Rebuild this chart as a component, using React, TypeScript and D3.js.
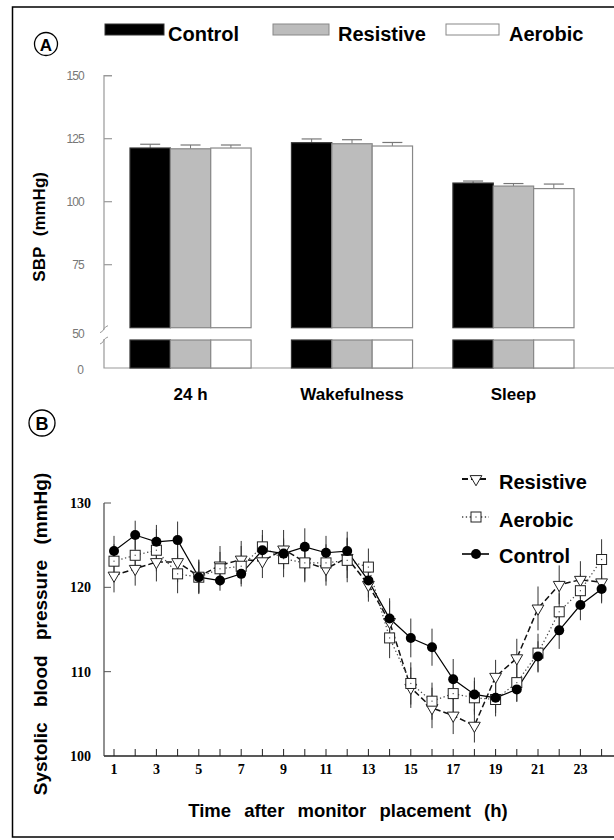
import React from "react";
import * as d3 from "d3";

// Panel A: mean SBP by period
const periods = ["24 h", "Wakefulness", "Sleep"];
const groupNames = ["Control", "Resistive", "Aerobic"];
const controlSBP = [121.3, 123.4, 107.4];
const resistiveSBP = [121.0, 123.0, 106.2];
const aerobicSBP = [121.3, 122.1, 105.2];
const controlSBPErr = [1.5, 1.5, 0.8];
const resistiveSBPErr = [1.5, 1.6, 1.0];
const aerobicSBPErr = [1.2, 1.4, 1.8];
const sbpTicks = [75, 100, 125, 150];

// Panel B: hourly SBP after monitor placement
const hours = d3.range(1, 25);
const hourLabels = [1, 3, 5, 7, 9, 11, 13, 15, 17, 19, 21, 23];
const controlHourly = [124.3, 126.2, 125.4, 125.6, 121.2, 120.8, 121.6, 124.4, 124.0, 124.8, 124.1, 124.3,
  120.8, 116.3, 114.0, 112.9, 109.1, 107.3, 106.9, 107.9, 111.8, 114.9, 117.9, 119.8];
const resistiveHourly = [121.4, 122.2, 123.0, 123.0, 121.3, 122.6, 123.3, 123.1, 124.5, 123.0, 122.2, 123.5,
  120.3, 115.9, 108.1, 105.7, 104.8, 103.6, 109.4, 111.6, 117.5, 120.3, 120.9, 120.6];
const aerobicHourly = [123.1, 123.8, 124.4, 121.6, 121.2, 122.2, 122.5, 124.8, 123.4, 122.9, 122.9, 123.2,
  122.4, 114.0, 108.6, 106.5, 107.4, 106.9, 106.7, 108.7, 112.2, 117.1, 119.6, 123.3];
const controlHourlyErr = [1.8, 1.7, 2.0, 2.2, 1.8, 1.2, 1.2, 1.8, 1.8, 2.2, 2.0, 2.3,
  2.0, 2.4, 2.3, 2.2, 2.4, 2.0, 1.8, 1.5, 1.8, 2.2, 1.8, 1.5];
const resistiveHourlyErr = [2.0, 2.0, 2.3, 2.4, 2.0, 2.3, 2.2, 2.0, 2.3, 2.2, 2.0, 2.4,
  2.0, 2.5, 2.4, 2.4, 2.2, 2.0, 2.0, 2.3, 2.6, 2.3, 2.2, 2.5];
const aerobicHourlyErr = [2.0, 2.2, 2.5, 2.3, 2.0, 2.0, 2.4, 2.0, 2.2, 2.3, 2.2, 2.6,
  2.2, 2.4, 2.5, 2.2, 2.3, 2.0, 2.0, 2.2, 2.3, 2.2, 2.0, 2.4];

const sans = "Liberation Sans, Arial, sans-serif";
const serif = "Liberation Serif, Times New Roman, serif";

const PanelA = () => {
  const series = [
    { name: groupNames[0], values: controlSBP, err: controlSBPErr, fill: "#000", stroke: "#333" },
    { name: groupNames[1], values: resistiveSBP, err: resistiveSBPErr, fill: "#bcbcbc", stroke: "#888" },
    { name: groupNames[2], values: aerobicSBP, err: aerobicSBPErr, fill: "#fff", stroke: "#888" },
  ];
  const x = d3.scaleBand().domain(periods).range([130, 574]).paddingInner(0.25);
  const xi = d3.scaleBand().domain(groupNames).range([0, x.bandwidth()]);
  const y = d3.scaleLinear().domain([50, 150]).range([327.7, 75.7]);
  const axisX = 104;
  const baseY = 368;
  const lowTop = 340;

  const legendX = [105, 273, 446];
  const legendW = [59, 56, 53];
  const legendTextX = [168, 338, 509];

  return (
    <g>
      <circle cx={46} cy={44} r={11.5} fill="none" stroke="#000" strokeWidth={1.3} />
      <text x={46} y={50.5} textAnchor="middle" fontFamily={sans} fontWeight="bold" fontSize={17}>A</text>

      {series.map((s, i) => (
        <g key={s.name}>
          <rect x={legendX[i]} y={24} width={legendW[i]} height={11} fill={s.fill} stroke={s.stroke} strokeWidth={1} />
          <text x={legendTextX[i]} y={40.5} fontFamily={sans} fontWeight="bold" fontSize={20}>{s.name}</text>
        </g>
      ))}

      {/* axis */}
      <path d={`M${axisX + 8},${y(150)}H${axisX}V${y(50) + 2}`} fill="none" stroke="#999" strokeWidth={1.2} />
      <path d={`M${axisX},${lowTop - 1}V${baseY}H614`} fill="none" stroke="#999" strokeWidth={1.2} />
      <path d={`M${axisX - 4},${y(50) + 5} q3,-1 4,-4 q1,-2 4,-3`} fill="none" stroke="#999" strokeWidth={1} />
      <path d={`M${axisX - 4},${lowTop + 4} q3,-1 4,-4 q1,-2 4,-3`} fill="none" stroke="#999" strokeWidth={1} />
      {sbpTicks.map((t) => (
        <g key={t}>
          <line x1={axisX} x2={axisX + 8} y1={y(t)} y2={y(t)} stroke="#999" strokeWidth={1.2} />
          <text x={84} y={y(t)} dy="0.35em" textAnchor="end" fontFamily={sans} fontSize={12} fill="#777" letterSpacing={-0.8}>{t}</text>
        </g>
      ))}
      <text x={84} y={y(50) + 6} dy="0.35em" textAnchor="end" fontFamily={sans} fontSize={12} fill="#777" letterSpacing={-0.8}>50</text>
      <text x={84} y={baseY + 2} dy="0.35em" textAnchor="end" fontFamily={sans} fontSize={12} fill="#777">0</text>

      {/* bars */}
      {periods.map((p, pi) => (
        <g key={p} transform={`translate(${x(p)},0)`}>
          {series.map((s) => {
            const bx = xi(s.name) ?? 0;
            const w = xi.bandwidth();
            const top = y(s.values[pi]);
            const cap = y(s.values[pi] + s.err[pi]);
            return (
              <g key={s.name}>
                <line x1={bx + w / 2} x2={bx + w / 2} y1={top} y2={cap} stroke="#777" strokeWidth={1} />
                <line x1={bx + w / 2 - 10} x2={bx + w / 2 + 10} y1={cap} y2={cap} stroke="#777" strokeWidth={1.2} />
                <rect x={bx} y={top} width={w} height={y(50) - top} fill={s.fill} stroke={s.stroke} strokeWidth={1.2} />
                <rect x={bx} y={lowTop} width={w} height={baseY - lowTop} fill={s.fill} stroke={s.stroke} strokeWidth={1.2} />
              </g>
            );
          })}
          <text x={x.bandwidth() / 2} y={400} textAnchor="middle" fontFamily={sans} fontWeight="bold" fontSize={17}>{p}</text>
        </g>
      ))}

      <text transform={`translate(45,${(y(150) + baseY) / 2 + 5}) rotate(-90)`} textAnchor="middle" fontFamily={sans}
        fontWeight="bold" fontSize={17} wordSpacing={6}>SBP (mmHg)</text>
    </g>
  );
};

const PanelB = () => {
  const x = d3.scaleLinear().domain([1, 24]).range([114, 601.6]);
  const y = d3.scaleLinear().domain([100, 130]).range([756, 503]);
  const axisX = 104;
  const series = [
    { name: "Resistive", values: resistiveHourly, err: resistiveHourlyErr, dash: "6,3", width: 1.5, color: "#111", marker: "tri" },
    { name: "Aerobic", values: aerobicHourly, err: aerobicHourlyErr, dash: "1.3,2.5", width: 1.2, color: "#444", marker: "sq" },
    { name: "Control", values: controlHourly, err: controlHourlyErr, dash: "none", width: 1.2, color: "#000", marker: "dot" },
  ];
  const line = d3.line<number>().x((_, i) => x(hours[i])).y((d) => y(d));

  const marker = (kind: string, cx: number, cy: number, key: string | number) => {
    if (kind === "dot") return <circle key={key} cx={cx} cy={cy} r={5} fill="#000" />;
    if (kind === "sq")
      return (
        <g key={key}>
          <rect x={cx - 5} y={cy - 5} width={10} height={10} fill="#fff" stroke="#222" strokeWidth={1} />
          <rect x={cx - 0.6} y={cy - 0.6} width={1.2} height={1.2} fill="#555" />
        </g>
      );
    const tri = d3.symbol(d3.symbolTriangle, 60)();
    return <path key={key} d={tri ?? ""} transform={`translate(${cx},${cy}) rotate(180)`} fill="#fff" stroke="#222" strokeWidth={1} />;
  };

  const legendY = [479, 517, 554];
  const legendTextY = [489, 527, 563];

  return (
    <g>
      <circle cx={42} cy={423} r={13} fill="none" stroke="#000" strokeWidth={1.3} />
      <text x={42} y={429.5} textAnchor="middle" fontFamily={sans} fontWeight="bold" fontSize={18}>B</text>

      {/* axes */}
      <line x1={axisX} x2={axisX} y1={y(130)} y2={y(100)} stroke="#555" strokeWidth={1.3} />
      <line x1={axisX} x2={614} y1={y(100)} y2={y(100)} stroke="#222" strokeWidth={1.3} />
      {[100, 110, 120, 130].map((t) => (
        <g key={t}>
          <line x1={axisX} x2={axisX + 7} y1={y(t)} y2={y(t)} stroke="#555" strokeWidth={1} />
          <text x={91} y={y(t)} dy="0.35em" textAnchor="end" fontFamily={serif} fontWeight="bold" fontSize={14}>{t}</text>
        </g>
      ))}
      {hours.map((h) => (
        <line key={h} x1={x(h)} x2={x(h)} y1={y(100)} y2={y(100) - 7} stroke="#222" strokeWidth={1} />
      ))}
      {hourLabels.map((h) => (
        <text key={h} x={x(h)} y={774} textAnchor="middle" fontFamily={serif} fontWeight="bold" fontSize={14}>{h}</text>
      ))}

      {/* error bars */}
      {series.map((s) =>
        s.values.map((v, i) => (
          <line key={s.name + i} x1={x(hours[i])} x2={x(hours[i])} y1={y(v - s.err[i])} y2={y(v + s.err[i])}
            stroke="#333" strokeWidth={1} />
        ))
      )}
      {/* lines */}
      {series.map((s) => (
        <path key={s.name} d={line(s.values) ?? ""} fill="none" stroke={s.color} strokeWidth={s.width}
          strokeDasharray={s.dash === "none" ? undefined : s.dash} />
      ))}
      {/* markers */}
      {series.map((s) => s.values.map((v, i) => marker(s.marker, x(hours[i]), y(v), s.name + "m" + i)))}

      {/* legend */}
      {series.map((s, i) => (
        <g key={s.name}>
          <line x1={462} x2={489} y1={legendY[i]} y2={legendY[i]} stroke={s.color} strokeWidth={s.width + 0.4}
            strokeDasharray={s.dash === "none" ? undefined : s.dash} />
          {marker(s.marker, 476, legendY[i], "lg" + i)}
          <text x={499} y={legendTextY[i]} fontFamily={sans} fontWeight="bold" fontSize={20}>{s.name}</text>
        </g>
      ))}

      <text transform={`translate(47,634) rotate(-90)`} textAnchor="middle" fontFamily={sans}
        fontWeight="bold" fontSize={19} wordSpacing={10}>Systolic blood pressure (mmHg)</text>
      <text x={348} y={817} textAnchor="middle" fontFamily={sans} fontWeight="bold" fontSize={18.5} wordSpacing={8}>
        Time after monitor placement (h)
      </text>
    </g>
  );
};

export default function App() {
  return (
    <svg width={614} height={840} style={{ position: "absolute", left: 0, top: 0, background: "#fff" }}>
      <rect x={12.5} y={7} width={620} height={830} fill="#fff" stroke="#000" strokeWidth={1.5} />
      <PanelA />
      <PanelB />
    </svg>
  );
}
